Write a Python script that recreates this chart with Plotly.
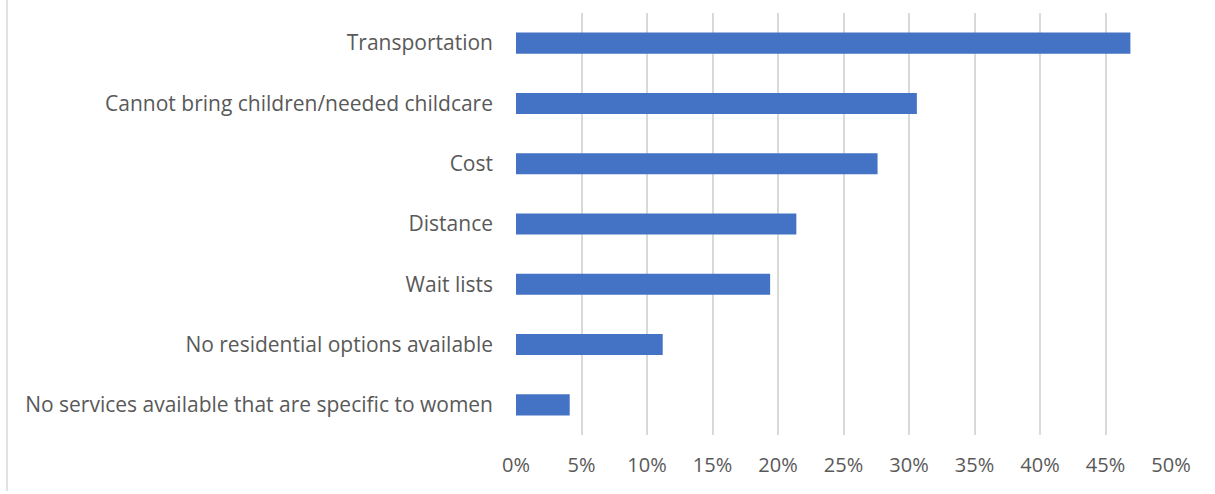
import plotly.graph_objects as go

categories = [
    "Transportation",
    "Cannot bring children/needed childcare",
    "Cost",
    "Distance",
    "Wait lists",
    "No residential options available",
    "No services available that are specific to women",
]
values = [0.469, 0.306, 0.276, 0.214, 0.194, 0.112, 0.041]
tick_vals = [0, 0.05, 0.10, 0.15, 0.20, 0.25, 0.30, 0.35, 0.40, 0.45, 0.50]
tick_text = ["0%", "5%", "10%", "15%", "20%", "25%", "30%", "35%", "40%", "45%", "50%"]

font_family = "'Open Sans', sans-serif"
text_color = "#595959"

fig = go.Figure(
    go.Bar(
        y=categories,
        x=values,
        orientation="h",
        marker=dict(color="#4472C4", line=dict(width=0)),
        width=0.35,
    )
)

fig.update_layout(
    width=1215,
    height=494,
    margin=dict(l=516, r=44, t=13, b=59),
    paper_bgcolor="white",
    plot_bgcolor="white",
    showlegend=False,
    font=dict(family=font_family, color=text_color, size=20),
    shapes=[
        dict(type="line", xref="paper", yref="paper",
             x0=-509 / 655, x1=-509 / 655, y0=-56 / 422, y1=1 + 13 / 422,
             line=dict(color="#D9D9D9", width=1.5)),
    ],
)

fig.update_xaxes(
    range=[0, 0.5],
    tickvals=tick_vals,
    ticktext=tick_text,
    showgrid=True,
    gridcolor="#D9D9D9",
    gridwidth=2,
    zeroline=False,
    showline=False,
    ticks="",
    ticklabelstandoff=16,
    tickfont=dict(size=20, color=text_color, family=font_family),
)
fig.update_yaxes(
    autorange="reversed",
    showgrid=False,
    zeroline=False,
    showline=False,
    ticks="",
    ticklabelstandoff=22,
    tickfont=dict(size=21, color=text_color, family=font_family),
)

fig.write_html("out.html")
